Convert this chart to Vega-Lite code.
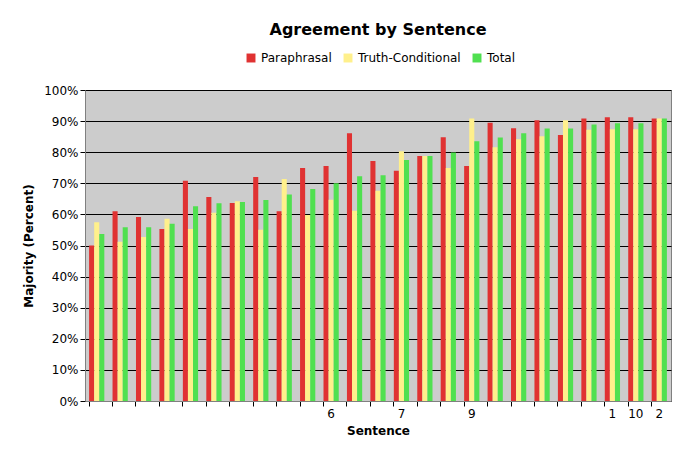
{
  "$schema": "https://vega.github.io/schema/vega-lite/v6.json",
  "autosize": "none",
  "width": 586,
  "height": 311,
  "padding": {"left": 85, "top": 90, "right": 12, "bottom": 66},
  "background": "white",
  "config": {
    "font": "DejaVu Sans",
    "view": {"fill": "#CCCCCC", "stroke": "#808080"},
    "axis": {"labelFont": "DejaVu Sans", "labelFontSize": 12, "labelColor": "black", "titleFont": "DejaVu Sans", "titleFontSize": 12, "titleFontWeight": "bold", "titleColor": "black"}
  },
  "title": {"text": "Agreement by Sentence", "font": "DejaVu Sans", "fontSize": 16, "fontWeight": "bold", "color": "black", "anchor": "middle", "offset": 14},
  "data": {
    "values": [
      {"id": 0, "P": 0.500, "T": 0.575, "G": 0.537},
      {"id": 1, "P": 0.610, "T": 0.512, "G": 0.559},
      {"id": 2, "P": 0.592, "T": 0.527, "G": 0.559},
      {"id": 3, "P": 0.553, "T": 0.586, "G": 0.570},
      {"id": 4, "P": 0.708, "T": 0.553, "G": 0.626},
      {"id": 5, "P": 0.656, "T": 0.605, "G": 0.636},
      {"id": 6, "P": 0.637, "T": 0.642, "G": 0.640},
      {"id": 7, "P": 0.720, "T": 0.551, "G": 0.646},
      {"id": 8, "P": 0.610, "T": 0.714, "G": 0.664},
      {"id": 9, "P": 0.749, "T": 0.598, "G": 0.682},
      {"id": 10, "P": 0.756, "T": 0.647, "G": 0.700},
      {"id": 11, "P": 0.861, "T": 0.612, "G": 0.723},
      {"id": 12, "P": 0.772, "T": 0.676, "G": 0.726},
      {"id": 13, "P": 0.740, "T": 0.803, "G": 0.775},
      {"id": 14, "P": 0.788, "T": 0.788, "G": 0.788},
      {"id": 15, "P": 0.848, "T": 0.749, "G": 0.799},
      {"id": 16, "P": 0.756, "T": 0.908, "G": 0.835},
      {"id": 17, "P": 0.895, "T": 0.816, "G": 0.847},
      {"id": 18, "P": 0.877, "T": 0.842, "G": 0.861},
      {"id": 19, "P": 0.903, "T": 0.851, "G": 0.876},
      {"id": 20, "P": 0.855, "T": 0.903, "G": 0.876},
      {"id": 21, "P": 0.908, "T": 0.872, "G": 0.889},
      {"id": 22, "P": 0.912, "T": 0.874, "G": 0.893},
      {"id": 23, "P": 0.912, "T": 0.874, "G": 0.893},
      {"id": 24, "P": 0.908, "T": 0.908, "G": 0.908}
    ]
  },
  "transform": [
    {"fold": ["P", "T", "G"], "as": ["key", "value"]},
    {"lookup": "key", "from": {"data": {"values": [
      {"key": "P", "series": "Paraphrasal", "ord": 0},
      {"key": "T", "series": "Truth-Conditional", "ord": 1},
      {"key": "G", "series": "Total", "ord": 2}
    ]}, "key": "key", "fields": ["series", "ord"]}}
  ],
  "mark": {"type": "bar"},
  "encoding": {
    "x": {
      "field": "id", "type": "ordinal", "title": "Sentence",
      "scale": {"paddingInner": 0.35, "paddingOuter": 0.175},
      "axis": {
        "labelAngle": 0, "bandPosition": 0, "labelOffset": 0, "grid": false,
        "domainColor": "#808080", "tickColor": "black", "tickSize": 5,
        "labelExpr": "datum.value == 10 ? '6' : datum.value == 13 ? '7' : datum.value == 16 ? '9' : datum.value == 22 ? '1' : datum.value == 23 ? '10' : datum.value == 24 ? '2' : ''",
        "titlePadding": 6
      }
    },
    "xOffset": {"field": "series", "sort": ["Paraphrasal", "Truth-Conditional", "Total"], "scale": {"paddingInner": 0, "paddingOuter": 0}},
    "y": {
      "field": "value", "type": "quantitative", "title": "Majority (Percent)",
      "scale": {"domain": [0, 1]},
      "axis": {"format": ".0%", "values": [0, 0.1, 0.2, 0.3, 0.4, 0.5, 0.6, 0.7, 0.8, 0.9, 1], "labelOverlap": false, "gridColor": "black", "gridOpacity": 1, "domainColor": "#808080", "tickColor": "black", "tickSize": 5, "titlePadding": 8}
    },
    "color": {
      "field": "series", "type": "nominal",
      "sort": ["Paraphrasal", "Truth-Conditional", "Total"],
      "scale": {"domain": ["Paraphrasal", "Truth-Conditional", "Total"], "range": ["#E03232", "#FFF08C", "#50E050"]},
      "legend": {"title": null, "orient": "none", "direction": "horizontal", "legendX": 160, "legendY": -38, "symbolType": "square", "symbolSize": 80, "symbolStrokeWidth": 0, "labelFont": "DejaVu Sans", "labelFontSize": 12, "labelColor": "black", "columnPadding": 10}
    },
    "order": {"field": "ord"}
  }
}
